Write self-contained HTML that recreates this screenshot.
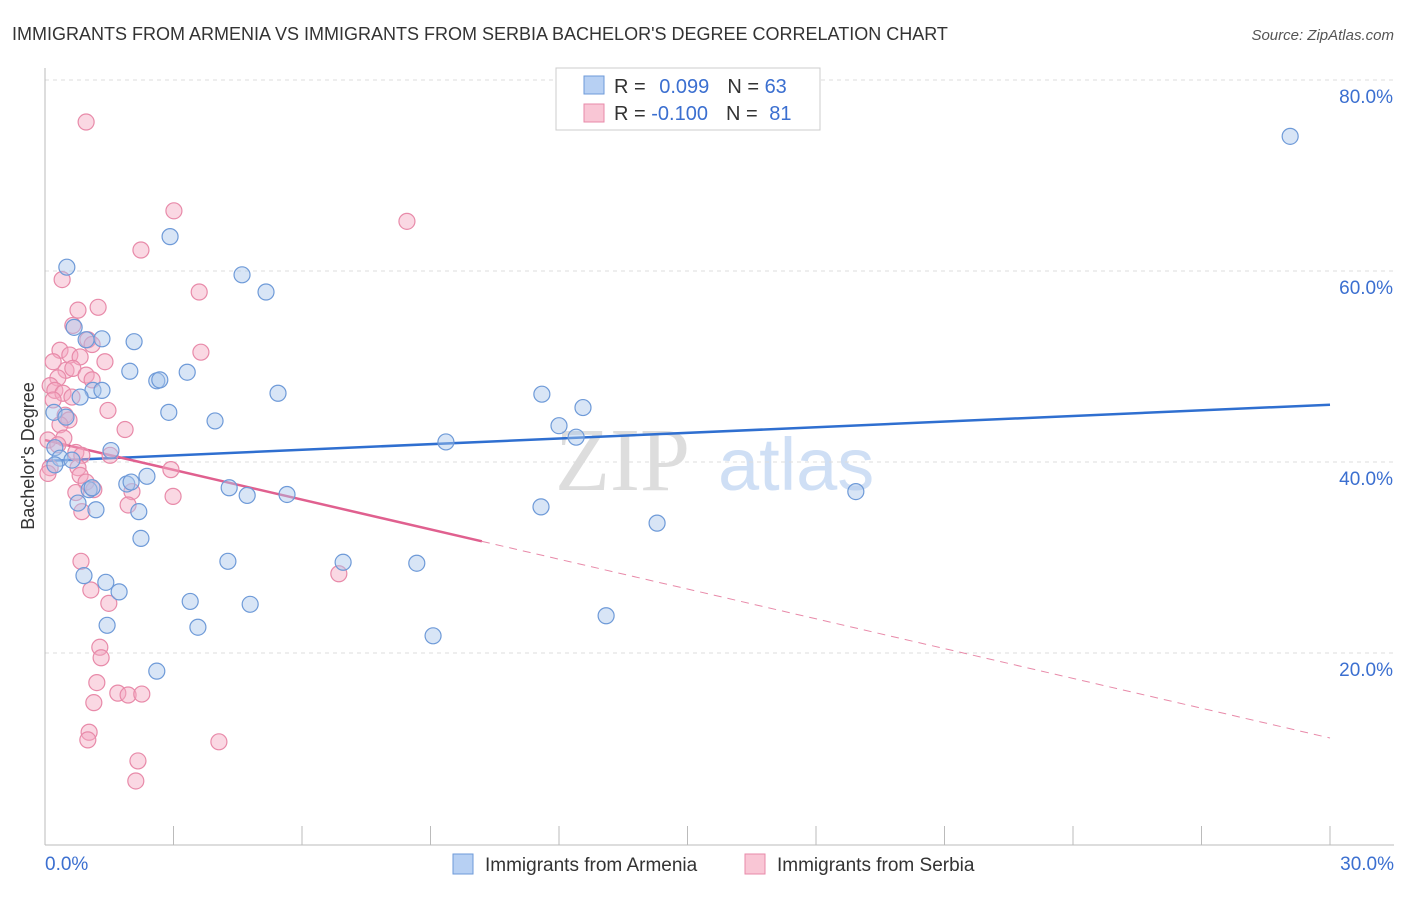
<!DOCTYPE html>
<html><head><meta charset="utf-8"><style>
body{margin:0;background:#fff;font-family:"Liberation Sans",sans-serif}
</style></head><body>
<svg id="chart" width="1406" height="892" xmlns="http://www.w3.org/2000/svg" font-family="Liberation Sans, sans-serif">
<text x="12" y="40" font-size="18" fill="#333">IMMIGRANTS FROM ARMENIA VS IMMIGRANTS FROM SERBIA BACHELOR'S DEGREE CORRELATION CHART</text>
<text x="1394" y="40" font-size="15" fill="#555" text-anchor="end" font-style="italic">Source: ZipAtlas.com</text>
<g><text x="555" y="490" font-size="90" fill="#ddd" font-family="Liberation Serif, serif">ZIP</text><text x="718" y="490" font-size="74" fill="#cfdff5">atlas</text></g>
<g id="grid"></g><g id="axes"></g><g id="trend"></g><g id="pts"></g>
<text transform="translate(34,456) rotate(-90)" font-size="18" fill="#333" text-anchor="middle">Bachelor's Degree</text>
<g>
<rect x="556" y="68" width="264" height="62" fill="#fff" stroke="#ccc"/>
<rect x="584" y="76" width="20" height="18" fill="#b7d0f3" stroke="#6e9ad8"/>
<rect x="584" y="104" width="20" height="18" fill="#f9c6d5" stroke="#e88aa9"/>
<text x="614" y="93" font-size="20" fill="#333">R = <tspan fill="#3b6fd0" dx="8">0.099</tspan><tspan dx="18">N = </tspan><tspan fill="#3b6fd0">63</tspan></text>
<text x="614" y="120" font-size="20" fill="#333">R = <tspan fill="#3b6fd0">-0.100</tspan><tspan dx="18">N = </tspan><tspan fill="#3b6fd0" dx="6">81</tspan></text>
</g>
<g>
<rect x="453" y="854" width="20" height="20" fill="#b7d0f3" stroke="#6e9ad8"/>
<text x="485" y="871" font-size="19" fill="#333">Immigrants from Armenia</text>
<rect x="745" y="854" width="20" height="20" fill="#f9c6d5" stroke="#e88aa9"/>
<text x="777" y="871" font-size="19" fill="#333">Immigrants from Serbia</text>
</g>
</svg>
<script>
const yTicks=[20,40,60,80];
const xTickLabels=["0.0%","30.0%"];
const blueX=[29.07,0.51,2.92,4.60,5.16,0.68,1.33,0.96,2.08,1.98,2.61,2.68,3.32,1.12,1.33,0.82,5.44,11.60,12.56,2.89,3.97,0.21,0.49,12.0,12.40,9.36,1.54,0.23,0.35,0.63,0.23,2.38,1.91,2.01,1.03,1.10,4.30,4.72,5.65,18.93,0.77,1.19,2.19,11.58,14.29,2.24,6.96,4.27,8.68,0.91,1.42,1.73,3.39,4.79,13.10,1.45,3.57,9.06,2.61];
const blueY=[74.1,60.4,63.6,59.6,57.8,54.1,52.9,52.8,52.6,49.5,48.5,48.6,49.4,47.5,47.5,46.8,47.2,47.1,45.7,45.2,44.3,45.2,44.7,43.8,42.6,42.1,41.2,41.5,40.4,40.2,39.7,38.5,37.7,37.9,37.1,37.3,37.3,36.5,36.6,36.9,35.7,35.0,34.8,35.3,33.6,32.0,29.5,29.6,29.4,28.1,27.4,26.4,25.4,25.1,23.9,22.9,22.7,21.8,18.1];
const pinkX=[0.96,3.01,8.45,2.24,0.40,3.60,1.24,0.77,0.65,3.64,1.00,1.10,0.35,0.19,0.58,0.82,1.40,0.49,0.30,0.65,0.96,1.10,0.12,0.23,0.42,0.19,0.63,1.47,0.47,0.56,0.35,0.44,1.87,0.07,0.30,0.72,0.86,1.52,0.12,0.77,0.82,2.94,0.96,1.14,0.72,2.03,2.99,1.94,0.86,0.84,6.86,1.07,1.49,1.28,1.31,1.21,1.70,1.94,2.26,1.14,1.03,1.00,4.06,2.17,2.12,0.07];
const pinkY=[75.6,66.3,65.2,62.2,59.1,57.8,56.2,55.9,54.3,51.5,52.8,52.3,51.7,50.5,51.2,51.0,50.5,49.6,48.8,49.8,49.1,48.6,48.0,47.5,47.2,46.5,46.8,45.4,44.9,44.4,43.9,42.5,43.4,42.3,41.8,41.0,40.7,40.7,39.4,39.4,38.6,39.2,37.9,37.1,36.8,36.9,36.4,35.5,34.8,29.6,28.3,26.6,25.2,20.6,19.5,16.9,15.8,15.6,15.7,14.8,11.7,10.9,10.7,8.7,6.6,38.8];
const blueTrend=[40.1,46.0];
const pinkTrend=[42.3,11.1];
const pinkSolidEnd=10.2;
const X0=45,X1=1330,Y0=844,YTOP=80;
const sx=v=>X0+(v/30)*(X1-X0);
const sy=v=>Y0-(v/80)*(Y0-YTOP);
const NS="http://www.w3.org/2000/svg";
function mk(p,t,a){const e=document.createElementNS(NS,t);for(const k in a)e.setAttribute(k,a[k]);p.appendChild(e);return e;}
const grid=document.getElementById('grid'),axes=document.getElementById('axes'),trend=document.getElementById('trend'),pts=document.getElementById('pts');
yTicks.forEach(t=>{
 const l=mk(grid,'line',{x1:X0,x2:1394,y1:sy(t),y2:sy(t),stroke:'#ddd','stroke-dasharray':'4,4'});
 
 
 const tx=mk(grid,'text',{x:1393,y:sy(t)+23,'font-size':19,fill:'#3b6fd0','text-anchor':'end'});
 tx.textContent=t.toFixed(1)+'%';
 
 
});
const ax=mk(axes,'line',{x1:X0,x2:1394,y1:Y0+1,y2:Y0+1,stroke:'#bbb'});


const ay=mk(axes,'line',{x1:X0,x2:X0,y1:68,y2:Y0+1,stroke:'#bbb'});


for(let i=0;i<=10;i++){
 const t=mk(axes,'line',{x1:sx(i*3),x2:sx(i*3),y1:826,y2:Y0+1,stroke:'#bbb'});
 
 
}
const xl0=mk(axes,'text',{x:45,y:870,'font-size':19,fill:'#3b6fd0'});xl0.textContent=xTickLabels[0];


const xl1=mk(axes,'text',{x:1394,y:870,'font-size':19,fill:'#3b6fd0','text-anchor':'end'});xl1.textContent=xTickLabels[1];


function dots(X,Y,fill,stroke,name){X.forEach((x,i)=>{
 const c=mk(pts,'circle',{cx:sx(x),cy:sy(Y[i]),r:8,fill:fill,'fill-opacity':0.45,stroke:stroke,'stroke-width':1.2});
 
 
});}
dots(pinkX,pinkY,'#f4a9c0','#e88aa9','serbia-point');
dots(blueX,blueY,'#a9c6ec','#6e9ad8','armenia-point');
const bt=mk(trend,'line',{x1:sx(0),y1:sy(blueTrend[0]),x2:sx(30),y2:sy(blueTrend[1]),stroke:'#2f6fd0','stroke-width':2.5});


const pAt=x=>pinkTrend[0]+(pinkTrend[1]-pinkTrend[0])*x/30;
const pt=mk(trend,'line',{x1:sx(0),y1:sy(pinkTrend[0]),x2:sx(pinkSolidEnd),y2:sy(pAt(pinkSolidEnd)),stroke:'#e0608f','stroke-width':2.5});


const pd=mk(trend,'line',{x1:sx(pinkSolidEnd),y1:sy(pAt(pinkSolidEnd)),x2:sx(30),y2:sy(pinkTrend[1]),stroke:'#e88aa9','stroke-width':1,'stroke-dasharray':'8,6'});


</script>
</body></html>
